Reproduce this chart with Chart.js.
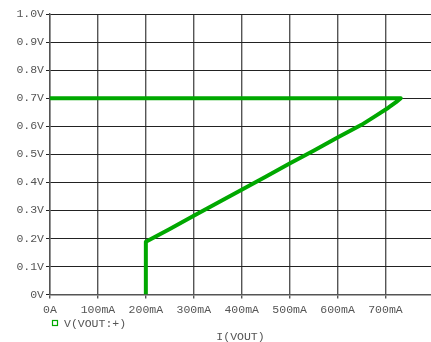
<!DOCTYPE html>
<html>
<head>
<meta charset="utf-8">
<script src="https://cdn.jsdelivr.net/npm/chart.js@4/dist/chart.umd.min.js"></script>
<style>
  html, body { margin: 0; padding: 0; background: #ffffff; }
  #wrap { width: 431px; height: 342px; position: relative; }
</style>
</head>
<body>
<div id="wrap"><canvas id="plot"></canvas></div>
<script>
// DC sweep trace: output current (mA) against output voltage (V)
const seriesName = 'V(VOUT:+)';
const axisTitleX = 'I(VOUT)';
const currentMA = [200, 200, 250, 300, 350, 400, 450, 500, 550, 600, 650, 678, 706, 722, 732, 600, 400, 200, 0];
const voltageV  = [0, 0.188, 0.234, 0.281, 0.327, 0.374, 0.420, 0.467, 0.513, 0.560, 0.605, 0.635, 0.666, 0.686, 0.700, 0.700, 0.700, 0.700, 0.700];
const xTicksMA = [0, 100, 200, 300, 400, 500, 600, 700];
const yTicksV  = [0, 0.1, 0.2, 0.3, 0.4, 0.5, 0.6, 0.7, 0.8, 0.9, 1.0];

const traceColor = '#00a800';
const textColor = '#555555';
const monoFont = { family: '"Liberation Mono", "DejaVu Sans Mono", monospace', size: 11.5 };

const points = currentMA.map((x, i) => ({ x: x, y: voltageV[i] }));

// Legend swatch + series name under the axis labels
const legendPlugin = {
  id: 'traceLegend',
  afterDraw(chart) {
    const ctx = chart.ctx;
    const ds = chart.data.datasets[0];
    ctx.save();
    ctx.strokeStyle = ds.borderColor;
    ctx.lineWidth = 1.2;
    ctx.fillStyle = '#ffffff';
    ctx.fillRect(52.5, 320.5, 5, 5);
    ctx.strokeRect(52.5, 320.5, 5, 5);
    ctx.fillStyle = textColor;
    ctx.font = monoFont.size + 'px ' + monoFont.family;
    ctx.textBaseline = 'middle';
    ctx.textAlign = 'left';
    ctx.fillText(ds.label, 64, 323.5);
    ctx.restore();
  }
};

new Chart(document.getElementById('plot'), {
  type: 'scatter',
  data: {
    datasets: [{
      label: seriesName,
      data: points,
      showLine: true,
      borderColor: traceColor,
      backgroundColor: traceColor,
      borderWidth: 4,
      pointRadius: 0,
      tension: 0,
      borderJoinStyle: 'round',
      borderCapStyle: 'butt'
    }]
  },
  options: {
    responsive: true,
    maintainAspectRatio: false,
    animation: false,
    devicePixelRatio: 1,
    layout: { padding: { left: 0, right: 0, top: 14, bottom: 0 } },
    plugins: {
      legend: { display: false },
      tooltip: { enabled: false }
    },
    scales: {
      x: {
        type: 'linear',
        min: 0,
        max: 795,
        afterFit(scale) { scale.height = 47.4; },
        afterBuildTicks(scale) { scale.ticks = xTicksMA.map(v => ({ value: v })); },
        ticks: {
          includeBounds: false,
          color: textColor,
          font: monoFont,
          padding: 4,
          maxRotation: 0,
          autoSkip: false,
          callback: v => v === 0 ? '0A' : v + 'mA'
        },
        grid: { color: '#555555', lineWidth: 1.4, tickLength: 4, drawTicks: true },
        border: { color: '#555555', width: 1.4 },
        title: {
          display: true,
          text: axisTitleX,
          color: textColor,
          font: { family: monoFont.family, size: 11.5, lineHeight: 1 },
          padding: { top: 0, bottom: -1 }
        }
      },
      y: {
        type: 'linear',
        min: 0,
        max: 1,
        afterFit(scale) { scale.width = 50; },
        afterBuildTicks(scale) { scale.ticks = yTicksV.map(v => ({ value: v })); },
        ticks: {
          color: textColor,
          font: monoFont,
          padding: 2,
          autoSkip: false,
          callback: v => v === 0 ? '0V' : v.toFixed(1) + 'V'
        },
        grid: { color: '#222222', lineWidth: 1, tickLength: 4, drawTicks: true },
        border: { color: '#555555', width: 1.4 }
      }
    }
  },
  plugins: [legendPlugin]
});
</script>
</body>
</html>
